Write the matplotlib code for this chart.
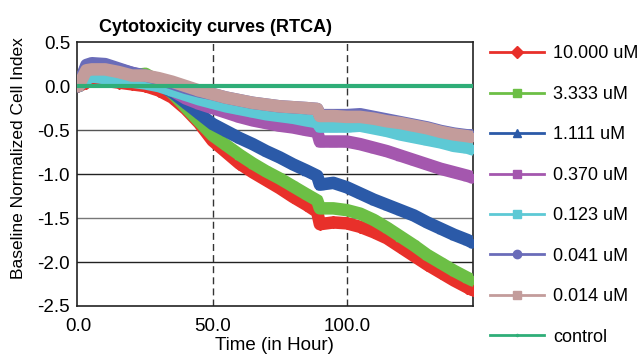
import matplotlib
matplotlib.use("Agg")
import matplotlib.pyplot as plt
from matplotlib.lines import Line2D

plt.rcParams['font.family'] = ['Liberation Sans', 'DejaVu Sans']

time = [0, 3, 5, 10, 15, 20, 25, 30, 35, 40, 45, 50, 55, 60, 65, 70, 75, 80, 85, 89,
        90, 95, 100, 105, 110, 115, 120, 125, 130, 135, 140, 145, 147]

c10000 = [0, 0.04, 0.07, 0.06, 0.04, 0.02, 0.0, -0.05, -0.13, -0.26, -0.42, -0.62, -0.75, -0.88,
          -0.98, -1.07, -1.16, -1.26, -1.35, -1.43, -1.57, -1.55, -1.56, -1.60, -1.66, -1.73,
          -1.83, -1.93, -2.03, -2.12, -2.21, -2.29, -2.32]
c3333 = [0, 0.15, 0.20, 0.19, 0.16, 0.12, 0.14, 0.05, -0.08, -0.24, -0.40, -0.56, -0.67, -0.78,
         -0.88, -0.97, -1.05, -1.14, -1.23, -1.30, -1.39, -1.39, -1.41, -1.45, -1.52, -1.61,
         -1.71, -1.81, -1.92, -2.01, -2.10, -2.18, -2.21]
c1111 = [0, 0.18, 0.22, 0.20, 0.16, 0.12, 0.08, 0.02, -0.07, -0.19, -0.31, -0.43, -0.51, -0.59,
         -0.66, -0.74, -0.81, -0.89, -0.96, -1.02, -1.12, -1.10, -1.15, -1.22, -1.29, -1.35,
         -1.41, -1.47, -1.55, -1.62, -1.69, -1.75, -1.78]
c0370 = [0, 0.22, 0.25, 0.24, 0.19, 0.15, 0.11, 0.05, -0.05, -0.14, -0.20, -0.25, -0.30, -0.35,
         -0.39, -0.42, -0.45, -0.47, -0.50, -0.52, -0.63, -0.63, -0.63, -0.66, -0.70, -0.74,
         -0.79, -0.84, -0.89, -0.94, -0.98, -1.02, -1.04]
c0123 = [0, 0.08, 0.11, 0.09, 0.07, 0.05, 0.03, 0.0, -0.05, -0.10, -0.15, -0.19, -0.23, -0.26,
         -0.29, -0.32, -0.34, -0.36, -0.39, -0.41, -0.46, -0.46, -0.46, -0.45, -0.48, -0.51,
         -0.55, -0.58, -0.61, -0.64, -0.68, -0.70, -0.72]
c0041 = [0, 0.24, 0.26, 0.25, 0.20, 0.15, 0.12, 0.08, 0.03, -0.02, -0.06, -0.09, -0.13, -0.16,
         -0.19, -0.21, -0.23, -0.24, -0.25, -0.26, -0.33, -0.33, -0.33, -0.32, -0.35, -0.38,
         -0.41, -0.44, -0.47, -0.51, -0.54, -0.56, -0.56]
c0014 = [0, 0.18, 0.19, 0.19, 0.16, 0.12, 0.12, 0.09, 0.05, 0.0, -0.05, -0.09, -0.13, -0.16,
         -0.19, -0.21, -0.23, -0.24, -0.25, -0.26, -0.34, -0.34, -0.35, -0.35, -0.37, -0.40,
         -0.42, -0.45, -0.48, -0.52, -0.55, -0.57, -0.58]
control = [0.0] * len(time)

labels = ["10.000 uM", "3.333 uM", "1.111 uM", "0.370 uM", "0.123 uM", "0.041 uM", "0.014 uM", "control"]
series = [c10000, c3333, c1111, c0370, c0123, c0041, c0014, control]
colors = ["#e8302a", "#6cbf45", "#2b5aa8", "#a457ae", "#5dc9d5", "#6a6cb9", "#c39c9b", "#2fae78"]
markers = ["D", "s", "^", "s", "s", "o", "s", "."]

fig = plt.figure(figsize=(6.39, 3.54), dpi=100)
ax = fig.add_axes([0.1205, 0.1356, 0.6195, 0.7454])

for y, c, m in zip(series[:-1], colors[:-1], markers[:-1]):
    ax.plot(time, y, color=c, lw=9, marker=m, ms=6, mec=c, mfc=c, solid_capstyle='round',
            solid_joinstyle='round', zorder=3)
ax.plot(time, control, color=colors[-1], lw=3, zorder=4)

ax.set_xlim(-0.5, 147)
ax.set_ylim(-2.5, 0.5)
ax.set_xticks([0, 50, 100])
ax.set_xticklabels(["0.0", "50.0", "100.0"])
ax.set_yticks([-2.5, -2.0, -1.5, -1.0, -0.5, 0.0, 0.5])
ax.set_yticklabels(["-2.5", "-2.0", "-1.5", "-1.0", "-0.5", "0.0", "0.5"])
ax.tick_params(axis='both', labelsize=13.5, length=0)
ax.tick_params(axis='x', pad=9)
ax.tick_params(axis='y', pad=5)
for yv, col in [(-0.5, "#555555"), (-1.0, "#222222"), (-1.5, "#777777"), (-2.0, "#222222")]:
    ax.axhline(yv, color=col, lw=1, zorder=1)
for xv in [50, 100]:
    ax.axvline(xv, color="#333333", lw=1, ls=(0, (5, 3)), zorder=1)
for s in ax.spines.values():
    s.set_color("#222222")
    s.set_linewidth(1.2)

ax.set_title("Cytotoxicity curves (RTCA)", fontsize=13, fontweight='bold', x=0.35, pad=7)
ax.set_xlabel("Time (in Hour)", fontsize=13.5, labelpad=1)
ax.set_ylabel("Baseline Normalized Cell Index", fontsize=12.5)
ax.yaxis.set_label_coords(-0.128, 0.56)

handles = [Line2D([0], [0], color=c, lw=2, marker=m, ms=6 if m != "." else 3, mec=c, mfc=c)
           for c, m in zip(colors, markers)]
fig.legend(handles, labels, loc='upper left', bbox_to_anchor=(0.755, 0.892), frameon=False,
           fontsize=13, handlelength=3.0, labelspacing=1.30, handletextpad=0.5, borderaxespad=0)

fig.savefig("out.png", dpi=100)
